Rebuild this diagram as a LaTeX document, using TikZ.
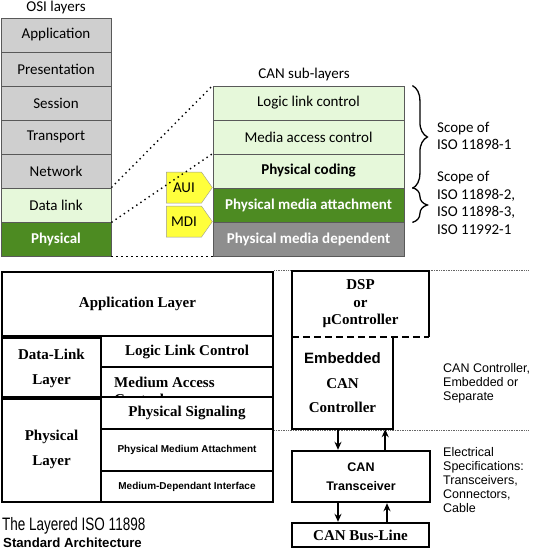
\documentclass[tikz,border=0pt]{standalone}
\usepackage{fontspec}
\setmainfont{Liberation Serif}
\newfontfamily\calfont{Carlito}
\newfontfamily\arialfont{Liberation Sans}
\newfontfamily\narrowfont[FakeStretch=0.75]{Liberation Sans}
\usetikzlibrary{shapes.symbols,decorations.pathreplacing,arrows.meta}
\definecolor{osigray}{HTML}{CFCFCF}
\definecolor{palegreen}{HTML}{E6F8DA}
\definecolor{darkgreen}{HTML}{4D8B22}
\definecolor{midgray}{HTML}{8E8E8E}
\definecolor{auiyellow}{HTML}{FFFF3C}
\begin{document}
\begin{tikzpicture}[x=1pt,y=-1pt,
    cal/.style={font=\calfont\fontsize{15}{17.5}\selectfont},
    osi/.style={cal,draw=black!65,line width=0.8pt,minimum width=110,minimum height=34,inner sep=0pt},
    can/.style={osi,minimum width=191},
    iface/.style={cal,shape=signal,signal to=east,signal pointer angle=110,draw=black!40,fill=auiyellow,
      minimum width=46,minimum height=31,inner sep=1pt,anchor=east},
    blk/.style={draw,line width=2.4pt,inner sep=0pt,align=center,font=\bfseries\fontsize{15}{25}\selectfont},
    small/.style={font=\arialfont\bfseries\fontsize{10}{12}\selectfont},
    note/.style={anchor=west,align=left,inner sep=0pt,font=\arialfont\fontsize{12.5}{13.8}\selectfont},
    curly/.style={decorate,decoration={brace,amplitude=15pt},line width=1.3pt},
    arr/.style={line width=2pt,-{Stealth[length=8pt,width=7pt]}}]
  \useasboundingbox (0,0) rectangle (535,551);
  \draw
    (56,8) node[cal] (osititle) {OSI layers}
    (56,35) node[osi,fill=osigray] (app) {Application}
    (56,69) node[osi,fill=osigray] (pres) {Presentation}
    (56,103) node[osi,fill=osigray] (sess) {Session}
    (56,137) node[osi,fill=osigray] (trans) {Transport}
    (56,171) node[osi,fill=osigray] (net) {Network}
    (56,205) node[osi,fill=palegreen] (dl) {Data link}
    (56,239) node[osi,fill=darkgreen,text=white,font=\calfont\bfseries\fontsize{15}{17.5}\selectfont] (phy) {Physical};
  \draw
    (304,75) node[cal] (cantitle) {CAN sub-layers}
    (308.5,103) node[can,fill=palegreen] (llc) {Logic link control}
    (308.5,137) node[can,fill=palegreen] (mac) {Media access control}
    (308.5,171) node[can,fill=palegreen,font=\calfont\bfseries\fontsize{15}{17.5}\selectfont] (pc) {Physical coding}
    (308.5,205) node[can,fill=darkgreen,text=white,font=\calfont\bfseries\fontsize{15}{17.5}\selectfont] (pma) {Physical media attachment}
    (308.5,239) node[can,fill=midgray,text=white,font=\calfont\bfseries\fontsize{15}{17.5}\selectfont] (pmd) {Physical media dependent};
  \node[iface] (aui) at (pma.north west) {AUI};
  \node[iface] (mdi) at (pmd.north west) {MDI};
  \begin{scope}[line width=1.4pt,dash pattern=on 1.4pt off 3.6pt]
    \draw (dl.north east) to (llc.north west);
    \draw (dl.south east) to (pc.north west);
    \draw (phy.south east) to (pmd.south west);
  \end{scope}
  \draw[curly] ([xshift=8]llc.north east) -- ([xshift=8]pc.south east);
  \draw[curly] ([xshift=8]pma.north east) -- ([xshift=8]pma.south east);
  \node[cal,anchor=west,align=left,inner sep=0pt] (scope1) at (437,136) {Scope of\\ISO 11898-1};
  \node[cal,anchor=west,align=left,inner sep=0pt] (scope2) at (437,203) {Scope of\\ISO 11898-2,\\ISO 11898-3,\\ISO 11992-1};
  \draw
    (137.5,304) node[blk,minimum width=271,minimum height=64] (applayer) {Application Layer}
    (51.5,368) node[blk,minimum width=99,minimum height=61] (dllayer) {Data-Link\\Layer}
    (51.5,449.5) node[blk,minimum width=99,minimum height=105] (phylayer) {Physical\\Layer}
    (187,351.5) node[blk,minimum width=172,minimum height=31] (llcbox) {Logic Link Control}
    (187,382) node[blk,minimum width=172,minimum height=30,path picture={
      \node[draw=none,minimum width=0pt,minimum height=0pt,anchor=north west,inner sep=0pt,align=left,
        font=\bfseries\fontsize{15}{17}\selectfont]
        at ([xshift=12,yshift=-9]path picture bounding box.north west) {Medium Access\\Control};}] (macbox) {}
    (187,413) node[blk,minimum width=172,minimum height=32] (psbox) {Physical Signaling}
    (187,450) node[blk,minimum width=172,minimum height=42,small] (pmabox) {Physical Medium Attachment}
    (187,486.5) node[blk,minimum width=172,minimum height=31,small] (mdibox) {Medium-Dependant Interface};
  \node[anchor=west,inner sep=0pt,font=\narrowfont\fontsize{18}{20}\selectfont] (cap1) at (2,526) {The Layered ISO 11898};
  \node[anchor=west,inner sep=0pt,font=\arialfont\bfseries\fontsize{13.2}{15}\selectfont] (cap2) at (3,543) {Standard Architecture};
  \coordinate (edge) at (528,0);
  \begin{scope}[black!60,line width=0.7pt,densely dotted]
    \draw (applayer.north east) to (applayer.north east -| edge);
    \draw (psbox.south east) to (psbox.south east -| edge);
  \end{scope}
  \node[inner sep=0pt,align=center,minimum width=137,minimum height=66,font=\bfseries\fontsize{15}{17.5}\selectfont] (dsp) at (360.5,304) {DSP\\or\\µController};
  \node[inner sep=0pt,align=center,minimum width=101,minimum height=92,font=\bfseries\fontsize{15}{24.5}\selectfont] (ecc) at (342.5,383) {{\arialfont Embedded}\\CAN\\Controller};
  \draw[line width=2.4pt] (dsp.south west) -- (dsp.north west) -- (dsp.north east) -- (dsp.south east);
  \draw[line width=2.4pt,dash pattern=on 7pt off 4pt] (dsp.south west) -- (dsp.south east);
  \draw[line width=2.4pt] (ecc.north west) -- (ecc.south west) -- (ecc.south east) -- (ecc.north east);
  \draw
    (361,476.5) node[blk,minimum width=138,minimum height=51,font=\arialfont\bfseries\fontsize{12.5}{19}\selectfont] (trx) {CAN\\Transceiver}
    (360.5,535) node[blk,minimum width=137,minimum height=24] (bus) {CAN Bus-Line};
  \draw[arr] ([xshift=-4.5]ecc.south) -- ([xshift=-4.5]ecc.south |- trx.north);
  \draw[arr] ([xshift=-8]ecc.south east |- trx.north) -- ([xshift=-8]ecc.south east);
  \draw[arr] ([xshift=-23]trx.south) -- ([xshift=-23]trx.south |- bus.north);
  \draw[arr] ([xshift=26]trx.south |- bus.north) -- ([xshift=26]trx.south);
  \node[note] (ctrlnote) at (443,383.5) {CAN Controller,\\Embedded or\\Separate};
  \node[note] (elecnote) at (443,480) {Electrical\\Specifications:\\Transceivers,\\Connectors,\\Cable};
\end{tikzpicture}
\end{document}
